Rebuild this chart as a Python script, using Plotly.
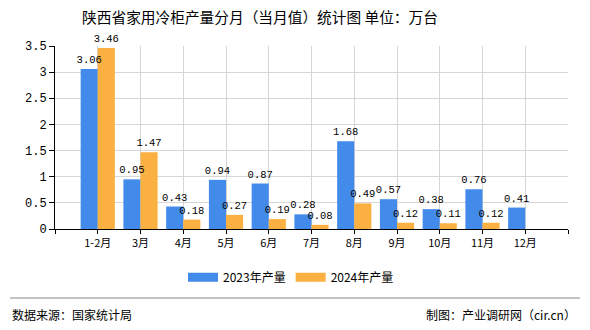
import plotly.graph_objects as go

categories = ["1-2月", "3月", "4月", "5月", "6月", "7月", "8月", "9月", "10月", "11月", "12月"]
v2023 = [3.06, 0.95, 0.43, 0.94, 0.87, 0.28, 1.68, 0.57, 0.38, 0.76, 0.41]
v2024 = [3.46, 1.47, 0.18, 0.27, 0.19, 0.08, 0.49, 0.12, 0.11, 0.12, None]
y_ticks = [0, 0.5, 1, 1.5, 2, 2.5, 3, 3.5]
series_names = ["2023年产量", "2024年产量"]
series_colors = ["#428BEA", "#FBB141"]

idx = list(range(len(categories)))
label_font = dict(family="Liberation Mono, monospace", size=10.5, color="#000")

fig = go.Figure()
# coloured bars
for k, (name, vals, color) in enumerate(zip(series_names, [v2023, v2024], series_colors)):
    fig.add_trace(go.Bar(
        x=idx, y=vals, name=name, offsetgroup=str(k),
        marker=dict(color=color, line=dict(width=0)),
        showlegend=False, hoverinfo="skip",
    ))
# transparent copies carrying the value labels, drawn above every bar
for k, (name, vals) in enumerate(zip(series_names, [v2023, v2024])):
    fig.add_trace(go.Bar(
        x=idx, y=vals, name=name, offsetgroup=str(k),
        marker=dict(color="rgba(0,0,0,0)", line=dict(width=0)),
        text=[("" if v is None else f"{v:.2f}") for v in vals],
        textposition="outside", textfont=label_font, constraintext="none",
        cliponaxis=False, showlegend=False,
    ))
# legend entries drawn as wide rectangles
for name, color in zip(series_names, series_colors):
    fig.add_trace(go.Scatter(
        x=[None], y=[None], mode="lines", name=name,
        line=dict(color=color, width=9), showlegend=True,
    ))

tickvals = [-1] + idx + [len(categories)]
ticktext = [""] + categories + [""]

fig.update_layout(
    width=590, height=330,
    margin=dict(l=55, r=22, t=46, b=101),
    paper_bgcolor="white", plot_bgcolor="white",
    barmode="group", bargap=0.2, bargroupgap=0,
    title=dict(text="陕西省家用冷柜产量分月（当月值）统计图 单位：万台",
               x=260 / 590, xanchor="center", y=0.945, yanchor="middle",
               font=dict(family="Noto Sans CJK SC", size=14.7, color="#000")),
    font=dict(family="Noto Sans CJK SC", size=12, color="#000"),
    showlegend=True,
    legend=dict(orientation="h", x=(291 - 55) / 513, xanchor="center", y=-0.185, yanchor="top",
                font=dict(family="Noto Sans CJK SC", size=12, color="#000"),
                itemwidth=30, traceorder="normal"),
    xaxis=dict(range=[-1, len(categories)], tickmode="array", tickvals=tickvals, ticktext=ticktext,
               showgrid=True, gridcolor="#D6D6D6", gridwidth=1,
               showline=True, linecolor="#000", linewidth=1,
               ticks="outside", ticklen=4, tickcolor="#000",
               tickfont=dict(family="Noto Sans CJK SC", size=11, color="#000"),
               zeroline=False, fixedrange=True),
    yaxis=dict(range=[0, 3.5], tickmode="array", tickvals=y_ticks,
               ticktext=[f"{t:g}" for t in y_ticks],
               showgrid=True, gridcolor="#D6D6D6", gridwidth=1,
               showline=True, linecolor="#000", linewidth=1,
               ticks="outside", ticklen=5, tickcolor="#000",
               tickfont=dict(family="Liberation Mono, monospace", size=12, color="#000"),
               zeroline=False, fixedrange=True),
)

# footer separator and texts
fig.add_shape(type="line", xref="paper", yref="paper", x0=-45/513, x1=(580-55)/513,
              y0=-(298-229)/183, y1=-(298-229)/183, line=dict(color="#888", width=1))
fig.add_annotation(text="数据来源：国家统计局", xref="paper", yref="paper",
                   x=-45/513, y=-(314-229)/183, xanchor="left", yanchor="middle",
                   showarrow=False, font=dict(family="Noto Sans CJK SC", size=12, color="#000"))
fig.add_annotation(text="制图：产业调研网（cir.cn）", xref="paper", yref="paper",
                   x=(578-55)/513, y=-(314-229)/183, xanchor="right", yanchor="middle",
                   showarrow=False, font=dict(family="Noto Sans CJK SC", size=12, color="#000"))

fig.write_html("out.html")
